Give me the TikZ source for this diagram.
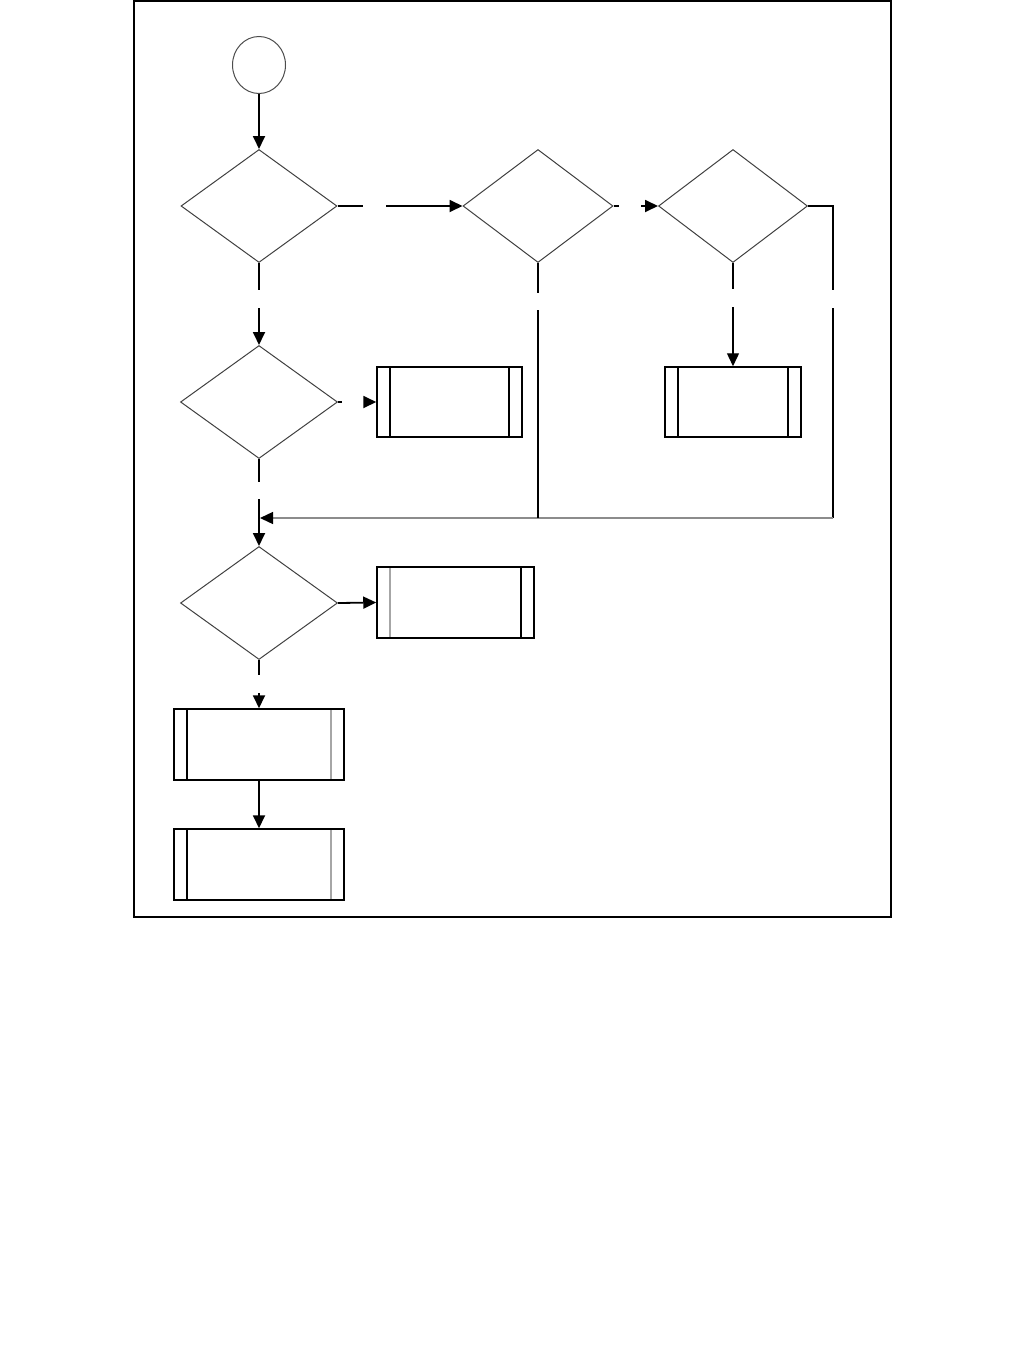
\documentclass[tikz,border=0pt]{standalone}
\usetikzlibrary{shapes.geometric,arrows.meta}

\tikzset{
  decision/.style={diamond,draw=black!75,line width=0.5pt,inner sep=0pt,
    minimum width=78pt,minimum height=56.5pt},
  subproc/.style 2 args={draw,line width=0.75pt,inner sep=0pt,minimum height=35pt,
    path picture={
      \draw[#1,line width=0.75pt] ([xshift=6.5pt]path picture bounding box.north west)
        -- ([xshift=6.5pt]path picture bounding box.south west);
      \draw[#2,line width=0.75pt] ([xshift=-6.5pt]path picture bounding box.north east)
        -- ([xshift=-6.5pt]path picture bounding box.south east);}},
  flow/.style={line width=0.9pt},
  flowarr/.style={line width=0.9pt,-{Triangle[length=6.5pt,width=6pt,color=black]}}
}

\begin{document}
\begin{tikzpicture}[x=0.5pt,y=-0.5pt]
\useasboundingbox (0,0) rectangle (1026,1365);
\draw[line width=0.6pt] (134,1) rectangle (891,917);

% shapes
\node[ellipse,draw=black!70,line width=0.5pt,minimum width=26.5pt,minimum height=28.5pt] (start) at (259,65) {};
\node[decision] (d1) at (259,206) {};
\node[decision,minimum width=75pt] (d2) at (538,206) {};
\node[decision,minimum width=74.5pt] (d3) at (733,206) {};
\node[decision,minimum width=78.5pt] (d4) at (259,402) {};
\node[decision,minimum width=78.5pt] (d5) at (259,603) {};

\node[subproc={black}{black},minimum width=68pt] (p3) at (733,402) {};
\node[subproc={black}{black},minimum width=72.5pt] (p4) at (449.5,402) {};
\node[subproc={black!35}{black},minimum width=78.5pt,minimum height=35.5pt] (p5) at (455.5,602.5) {};
\node[subproc={black}{black!35},minimum width=85pt,minimum height=35.5pt] (p6) at (259,744.5) {};
\node[subproc={black}{black!35},minimum width=85pt,minimum height=35.5pt] (p7) at (259,864.5) {};

% gap ends
\coordinate (g1a) at (363,206);
\coordinate (g1b) at (386,206);
\coordinate (g2a) at (619,206);
\coordinate (g2b) at (641,206);
\coordinate (g3a) at (833,290);
\coordinate (g3b) at (833,308);
\coordinate (g4a) at (538,293);
\coordinate (g4b) at (538,310);
\coordinate (g5a) at (733,289);
\coordinate (g5b) at (733,307);
\coordinate (g6a) at (259,290);
\coordinate (g6b) at (259,308);
\coordinate (g7a) at (342,402);
\coordinate (g7b) at (364,402);
\coordinate (g8a) at (259,482);
\coordinate (g8b) at (259,499);
\coordinate (g9a) at (259,675);
\coordinate (g9b) at (259,693);
\coordinate (corner) at (833,518);
\coordinate (join2) at (538,518);
\coordinate (merge) at (260,518);

% connectors
\draw[flowarr] (start.south) -- (d1.north);
\draw[flow] (d1.east) -- (g1a);
\draw[flowarr] (g1b) -- (d2.west);
\draw[flow] (d2.east) -- (g2a);
\draw[flowarr] (g2b) -- (d3.west);
\draw[flow] (d3.east) -| (g3a);
\draw[line width=0.7pt] (g3b) -- (corner);
\draw[line width=0.7pt,draw=black!45,-{Triangle[length=6.5pt,width=6pt,color=black]}] (corner) -- (merge);
\draw[line width=0.7pt] (d2.south) -- (g4a);
\draw[line width=0.7pt] (g4b) -- (join2);
\draw[line width=0.7pt] (d3.south) -- (g5a);
\draw[flowarr,line width=0.7pt] (g5b) -- (p3.north);
\draw[flow] (d1.south) -- (g6a);
\draw[flowarr] (g6b) -- (d4.north);
\draw[flow] (d4.east) -- (g7a);
\draw[flowarr] (g7b) -- (p4.west);
\draw[flow] (d4.south) -- (g8a);
\draw[flowarr] (g8b) -- (d5.north);
\draw[flowarr] (d5.east) -- (p5.west);
\draw[flow] (d5.south) -- (g9a);
\draw[flowarr] (g9b) -- (p6.north);
\draw[flowarr] (p6.south) -- (p7.north);
\end{tikzpicture}
\end{document}
